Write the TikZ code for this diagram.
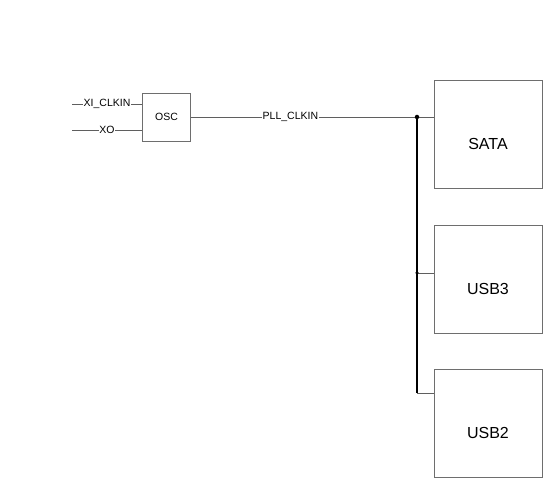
\documentclass[tikz,border=0pt]{standalone}
\usepackage{fontspec}
\setmainfont{Liberation Sans}
\definecolor{wiregray}{RGB}{95, 95, 95}
\definecolor{boxgray}{RGB}{110, 110, 110}
\usetikzlibrary{positioning, calc}
\tikzset{
	block/.style={rectangle, draw=boxgray, line width=0.7pt, minimum width=108pt, minimum height=108pt, inner sep=0pt},
	blocktext/.style={label={[yshift=-9.5pt, font=\fontsize{16}{18}\selectfont]center:#1}},
	oscblock/.style={rectangle, draw=boxgray, line width=0.7pt, minimum width=48pt, minimum height=48pt, inner sep=0pt, font=\fontsize{10.5}{12}\selectfont},
	wire/.style={draw=wiregray, line width=0.6pt},
	bus/.style={draw=black, line width=1.6pt},
	netlabel/.style={fill=white, inner sep=0.6pt, font=\fontsize{10.5}{12}\selectfont},
	junction/.style={circle, fill=black, inner sep=0pt, minimum size=4.5pt},
}

\begin{document}
\begin{tikzpicture}[x=1pt, y=-1pt]
		\useasboundingbox (0,0) rectangle (550,486);
		\node[oscblock] (osc) at (166.5,117) {OSC};
		\node[block, blocktext=SATA] (sata) at (488,134.5) {};
		\node[block, blocktext=USB3] (usb3) at (488,279) {};
		\node[block, blocktext=USB2] (usb2) at (488,423.5) {};
		\coordinate (xi) at (72,104);
		\coordinate (xo) at (72,130);
		\coordinate (tapsata) at (417,117);
		\coordinate (tapusb3) at (417,273);
		\coordinate (tapusb2) at (417,393);
		\draw[wire] (xi) -- node[netlabel]{XI\_CLKIN} (xi -| osc.west);
		\draw[wire] (xo) -- node[netlabel]{XO} (xo -| osc.west);
		\draw[wire] (osc.east) -- node[netlabel, pos=0.41]{PLL\_CLKIN} (osc.east -| sata.west);
		\draw[bus] (tapsata) -- (tapusb2);
		\draw[wire] (tapusb3) -- (tapusb3 -| usb3.west);
		\draw[wire] (tapusb2) -- (tapusb2 -| usb2.west);
		\node[junction] at (tapsata) {};
		\node[junction, minimum size=3.5pt] at (tapusb3) {};
	\end{tikzpicture}
\end{document}
